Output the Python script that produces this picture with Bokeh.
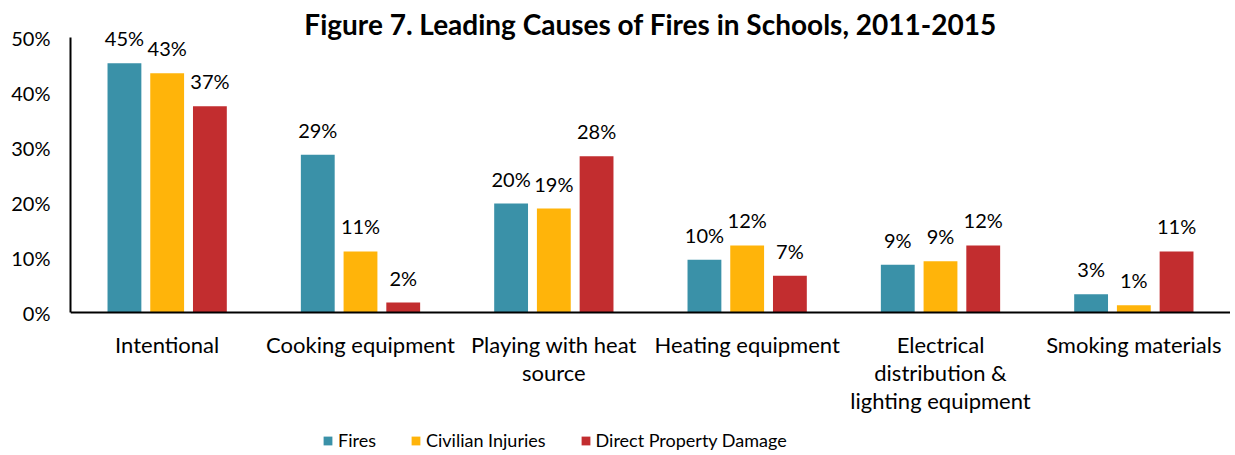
from bokeh.plotting import figure
from bokeh.models import ColumnDataSource, Legend, LegendItem, FactorRange, Label, Range1d
from bokeh.transform import dodge
from bokeh.core.properties import value
from bokeh.embed import file_html
from bokeh.resources import INLINE

categories = ["Intentional", "Cooking equipment", "Playing with heat\nsource",
              "Heating equipment", "Electrical\ndistribution &\nlighting equipment",
              "Smoking materials"]
fires = [45.3, 28.7, 19.8, 9.6, 8.7, 3.3]
injuries = [43.5, 11.1, 18.9, 12.2, 9.3, 1.3]
damage = [37.5, 1.8, 28.4, 6.7, 12.2, 11.1]
fires_lbl = ["45%", "29%", "20%", "10%", "9%", "3%"]
injuries_lbl = ["43%", "11%", "19%", "12%", "9%", "1%"]
damage_lbl = ["37%", "2%", "28%", "7%", "12%", "11%"]
series = ["Fires", "Civilian Injuries", "Direct Property Damage"]
colors = ["#3a91a8", "#ffb40a", "#c22d2f"]
title_text = "Figure 7. Leading Causes of Fires in Schools, 2011-2015"

FONT = "Lato"

src = ColumnDataSource(dict(cat=categories, fires=fires, injuries=injuries, damage=damage,
                            fl=fires_lbl, il=injuries_lbl, dl=damage_lbl))

p = figure(x_range=FactorRange(factors=categories, range_padding=0),
           y_range=Range1d(-25.09, 55.64), title=None,
           frame_width=1160, frame_height=444, output_backend="svg", toolbar_location=None,
           min_border_left=70, min_border_right=0, min_border_top=6, min_border_bottom=0)

w = 0.175
off = 0.221
renderers = []
for key, lk, o, c in [("fires", "fl", -off, colors[0]), ("injuries", "il", 0, colors[1]),
                      ("damage", "dl", off, colors[2])]:
    r = p.vbar(x=dodge("cat", o, range=p.x_range), top=key, width=w, source=src,
               fill_color=c, line_color=None)
    renderers.append(r)
    p.text(x=dodge("cat", o, range=p.x_range), y=key, text=lk, source=src,
           text_align="center", text_baseline="alphabetic", y_offset=-25,
           text_font=value(FONT), text_font_size="20px", text_color="black")

p.add_layout(Label(x=3.0, y=52.5, text=title_text, text_align="center",
                   text_baseline="alphabetic", text_font=FONT, text_font_size="28px",
                   text_font_style="bold", text_color="black"))

p.xgrid.visible = False
p.ygrid.visible = False
p.outline_line_color = None
p.background_fill_color = "white"

p.yaxis.bounds = (0, 50)
p.yaxis.ticker = [0, 10, 20, 30, 40, 50]
p.yaxis.major_label_overrides = {0: "0%", 10: "10%", 20: "20%", 30: "30%", 40: "40%", 50: "50%"}
p.yaxis.major_tick_line_color = None
p.yaxis.minor_tick_line_color = None
p.yaxis.axis_line_color = "black"
p.yaxis.axis_line_width = 2
p.yaxis.major_label_text_font = FONT
p.yaxis.major_label_text_font_size = "20px"
p.yaxis.major_label_text_color = "black"
p.yaxis.major_label_standoff = 14

p.xaxis.fixed_location = 0
p.xaxis.major_tick_line_color = None
p.xaxis.minor_tick_line_color = None
p.xaxis.axis_line_color = "black"
p.xaxis.axis_line_width = 2
p.xaxis.major_label_text_font = FONT
p.xaxis.major_label_text_font_size = "22px"
p.xaxis.major_label_text_line_height = 1.05
p.xaxis.major_label_text_color = "black"
p.xaxis.major_label_standoff = 12

legend = Legend(items=[LegendItem(label=s, renderers=[r]) for s, r in zip(series, renderers)],
                orientation="horizontal", location=(252, -1),
                label_text_font=FONT, label_text_font_size="18px", label_text_color="black",
                glyph_width=11, glyph_height=11, label_standoff=5, spacing=34,
                border_line_color=None, background_fill_alpha=0, padding=0, margin=0)
p.add_layout(legend, "center")

open("out.html", "w").write(file_html(p, INLINE))
